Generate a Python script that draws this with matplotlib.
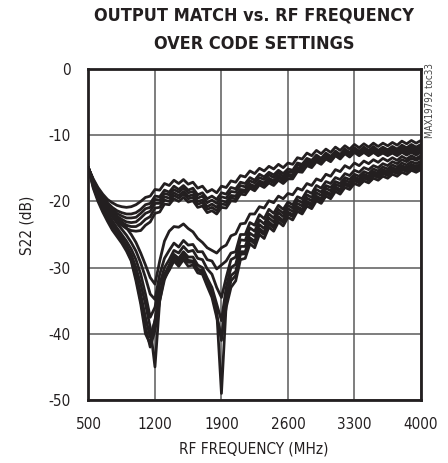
import numpy as np
import matplotlib
matplotlib.use("Agg")
import matplotlib.pyplot as plt

plt.rcParams['font.family'] = ['DejaVu Sans']
plt.rcParams['font.stretch'] = 'condensed'
plt.rcParams['axes.unicode_minus'] = False

# frequency sweep (MHz), one point every 50 MHz
freq = np.arange(500, 4001, 50)

# S22 (dB) traces, one per code setting
# upper group (small dip near 1 GHz)
u1 = [-15.0, -16.6, -17.9, -18.9, -19.7, -20.2, -20.6, -20.8, -20.9, -20.8,
      -20.5, -20.0, -19.4, -19.2, -18.2, -18.3, -17.3, -17.6, -16.8, -17.3,
      -16.7, -17.4, -17.1, -18.0, -17.7, -18.6, -18.2, -18.7, -17.7, -17.9,
      -16.9, -17.1, -16.1, -16.3, -15.4, -15.8, -15.0, -15.4, -14.7, -15.1,
      -14.4, -14.9, -14.2, -14.4, -13.4, -13.6, -12.7, -13.1, -12.3, -12.8,
      -12.1, -12.6, -11.8, -12.3, -11.6, -12.1, -11.4, -11.9, -11.3, -11.8,
      -11.2, -11.7, -11.2, -11.6, -11.1, -11.5, -10.9, -11.3, -10.8, -11.2,
      -10.8]
u2 = [-15.0, -16.8, -18.2, -19.3, -20.2, -20.9, -21.4, -21.7, -21.9, -21.9,
      -21.7, -21.2, -20.5, -20.3, -19.2, -19.3, -18.3, -18.6, -17.7, -18.2,
      -17.6, -18.3, -18.0, -19.0, -18.7, -19.6, -19.2, -19.7, -18.7, -18.9,
      -17.9, -18.1, -17.1, -17.3, -16.4, -16.8, -15.9, -16.3, -15.6, -16.0,
      -15.3, -15.8, -15.1, -15.3, -14.2, -14.4, -13.5, -13.8, -13.0, -13.5,
      -12.7, -13.2, -12.4, -12.9, -12.1, -12.6, -11.9, -12.4, -11.8, -12.3,
      -11.7, -12.3, -11.8, -12.2, -11.7, -12.1, -11.5, -11.9, -11.4, -11.8,
      -11.4]
u3 = [-15.0, -16.8, -18.3, -19.5, -20.4, -21.2, -21.8, -22.2, -22.5, -22.5,
      -22.4, -21.8, -21.1, -20.9, -19.7, -19.8, -18.8, -19.0, -18.2, -18.6,
      -18.0, -18.7, -18.5, -19.5, -19.2, -20.2, -19.8, -20.3, -19.3, -19.5,
      -18.5, -18.6, -17.6, -17.8, -16.9, -17.2, -16.4, -16.7, -16.0, -16.4,
      -15.7, -16.2, -15.5, -15.6, -14.5, -14.7, -13.7, -14.0, -13.2, -13.7,
      -12.9, -13.4, -12.6, -13.1, -12.3, -12.8, -12.1, -12.6, -12.0, -12.5,
      -11.9, -12.5, -12.0, -12.4, -11.9, -12.3, -11.8, -12.2, -11.7, -12.1,
      -11.7]
u4 = [-15.0, -16.9, -18.5, -19.7, -20.7, -21.5, -22.2, -22.7, -23.1, -23.2,
      -23.1, -22.5, -21.8, -21.5, -20.3, -20.3, -19.3, -19.5, -18.7, -19.1,
      -18.5, -19.2, -19.0, -20.0, -19.8, -20.8, -20.4, -20.9, -19.9, -20.1,
      -19.1, -19.2, -18.2, -18.3, -17.4, -17.7, -16.9, -17.2, -16.5, -16.9,
      -16.1, -16.6, -15.9, -16.0, -14.9, -15.0, -14.0, -14.3, -13.5, -13.9,
      -13.2, -13.6, -12.8, -13.3, -12.5, -13.0, -12.3, -12.8, -12.3, -12.8,
      -12.2, -12.7, -12.3, -12.7, -12.2, -12.6, -12.1, -12.5, -12.0, -12.4,
      -12.0]
u5 = [-15.0, -17.0, -18.6, -19.9, -21.0, -21.8, -22.6, -23.1, -23.6, -23.8,
      -23.8, -23.4, -22.7, -22.3, -21.0, -20.9, -19.8, -20.0, -19.1, -19.5,
      -18.9, -19.6, -19.4, -20.4, -20.2, -21.2, -20.9, -21.4, -20.4, -20.5,
      -19.5, -19.6, -18.5, -18.6, -17.7, -18.0, -17.2, -17.5, -16.8, -17.2,
      -16.4, -16.9, -16.2, -16.3, -15.2, -15.3, -14.3, -14.6, -13.7, -14.1,
      -13.4, -13.8, -12.9, -13.4, -12.6, -13.1, -12.4, -12.9, -12.4, -12.9,
      -12.4, -12.9, -12.5, -12.9, -12.4, -12.8, -12.3, -12.7, -12.3, -12.7,
      -12.3]
u6 = [-15.0, -17.0, -18.8, -20.1, -21.3, -22.2, -23.0, -23.6, -24.1, -24.4,
      -24.5, -24.4, -23.6, -23.1, -21.8, -21.6, -20.4, -20.5, -19.6, -20.0,
      -19.4, -20.1, -19.9, -20.9, -20.7, -21.7, -21.4, -21.9, -20.9, -21.0,
      -19.9, -20.0, -18.9, -19.0, -18.0, -18.4, -17.5, -17.9, -17.2, -17.6,
      -16.8, -17.3, -16.6, -16.6, -15.5, -15.6, -14.6, -14.9, -14.0, -14.4,
      -13.6, -14.0, -13.1, -13.6, -12.8, -13.3, -12.6, -13.1, -12.6, -13.1,
      -12.6, -13.1, -12.7, -13.1, -12.7, -13.1, -12.6, -13.0, -12.6, -13.0,
      -12.6]
# middle trace
m1 = [-15.0, -16.8, -18.2, -19.4, -20.5, -21.5, -22.4, -23.2, -24.0, -25.0,
      -26.2, -27.8, -29.6, -31.5, -32.5, -29.0, -26.0, -24.5, -23.8, -23.9,
      -23.4, -24.1, -24.6, -25.6, -26.2, -27.0, -27.4, -27.8, -27.0, -26.6,
      -25.2, -24.9, -23.4, -23.3, -21.9, -21.9, -20.8, -21.0, -19.9, -20.2,
      -19.2, -19.6, -18.8, -19.0, -18.0, -18.3, -17.3, -17.6, -16.6, -16.9,
      -15.9, -16.2, -15.2, -15.5, -14.6, -15.0, -14.2, -14.6, -13.9, -14.3,
      -13.7, -14.1, -13.5, -13.9, -13.4, -13.8, -13.2, -13.6, -13.1, -13.5,
      -13.1]
# lower group (deep notches near 1.2 GHz and 1.9 GHz)
l1 = [-15.0, -17.0, -18.6, -20.0, -21.2, -22.3, -23.3, -24.2, -25.1, -26.2,
      -27.5, -29.3, -31.5, -34.0, -34.8, -31.0, -28.6, -27.4, -26.3, -26.9,
      -25.9, -26.6, -26.5, -27.6, -27.6, -28.8, -29.0, -30.2, -29.6, -29.0,
      -27.8, -27.6, -25.0, -25.0, -23.2, -23.6, -22.0, -22.6, -21.2, -21.8,
      -20.6, -21.2, -20.1, -20.5, -19.3, -19.6, -18.4, -18.8, -17.6, -18.0,
      -17.0, -17.3, -16.4, -16.7, -15.8, -16.1, -15.3, -15.6, -14.9, -15.2,
      -14.6, -14.9, -14.3, -14.6, -14.0, -14.3, -13.7, -14.0, -13.5, -13.8,
      -13.4]
l2 = [-15.0, -17.2, -18.9, -20.4, -21.7, -22.9, -24.0, -25.0, -26.0, -27.2,
      -28.8, -31.0, -34.0, -37.5, -36.0, -32.5, -30.0, -28.8, -27.4, -27.8,
      -26.8, -27.6, -27.4, -28.6, -28.8, -30.2, -31.0, -33.0, -34.5, -31.5,
      -28.8, -28.4, -25.8, -25.9, -24.0, -24.5, -22.8, -23.4, -21.9, -22.5,
      -21.2, -21.8, -20.6, -21.0, -19.8, -20.2, -19.0, -19.4, -18.2, -18.6,
      -17.6, -17.9, -17.0, -17.3, -16.4, -16.7, -15.9, -16.2, -15.5, -15.8,
      -15.1, -15.4, -14.8, -15.1, -14.5, -14.8, -14.2, -14.5, -14.0, -14.3,
      -13.9]
l3 = [-15.0, -17.4, -19.2, -20.8, -22.1, -23.3, -24.4, -25.5, -26.6, -28.0,
      -30.0, -32.5, -35.5, -39.0, -45.0, -35.0, -31.2, -29.6, -28.0, -28.6,
      -27.6, -28.4, -28.4, -29.6, -30.0, -31.6, -33.0, -35.5, -38.0, -33.0,
      -30.0, -29.5, -26.8, -26.8, -24.8, -25.3, -23.5, -24.1, -22.5, -23.1,
      -21.7, -22.3, -21.1, -21.5, -20.3, -20.7, -19.5, -19.9, -18.7, -19.1,
      -18.0, -18.4, -17.4, -17.7, -16.8, -17.1, -16.3, -16.6, -15.9, -16.2,
      -15.5, -15.8, -15.2, -15.5, -14.9, -15.2, -14.6, -14.9, -14.4, -14.7,
      -14.3]
l4 = [-15.0, -17.6, -19.5, -21.1, -22.4, -23.6, -24.7, -25.8, -27.0, -28.5,
      -31.0, -34.0, -37.5, -40.5, -38.0, -34.0, -31.0, -29.8, -28.4, -29.0,
      -28.0, -28.9, -29.0, -30.2, -30.8, -32.5, -34.0, -37.0, -41.0, -34.5,
      -31.2, -30.6, -27.6, -27.6, -25.5, -26.0, -24.1, -24.7, -23.1, -23.7,
      -22.3, -22.9, -21.6, -22.0, -20.8, -21.2, -20.0, -20.4, -19.2, -19.6,
      -18.5, -18.9, -17.8, -18.2, -17.2, -17.5, -16.6, -16.9, -16.2, -16.5,
      -15.8, -16.1, -15.5, -15.8, -15.2, -15.5, -14.9, -15.2, -14.7, -15.0,
      -14.6]
l5 = [-15.0, -17.8, -19.7, -21.3, -22.6, -23.8, -24.9, -26.0, -27.2, -28.8,
      -31.5, -35.0, -39.0, -42.0, -39.5, -35.0, -31.8, -30.2, -28.8, -29.4,
      -28.4, -29.2, -29.2, -30.4, -30.4, -32.0, -33.5, -36.5, -49.0, -35.5,
      -32.0, -31.2, -28.0, -27.9, -25.8, -26.4, -24.5, -25.0, -23.4, -24.0,
      -22.6, -23.2, -21.9, -22.3, -21.1, -21.5, -20.3, -20.7, -19.5, -19.9,
      -18.8, -19.2, -18.1, -18.5, -17.5, -17.8, -16.9, -17.2, -16.5, -16.8,
      -16.1, -16.4, -15.8, -16.1, -15.5, -15.8, -15.2, -15.5, -15.0, -15.3,
      -14.9]
l6 = [-15.0, -18.0, -20.0, -21.6, -23.0, -24.3, -25.3, -26.3, -27.5, -29.0,
      -32.0, -35.5, -40.0, -41.5, -38.0, -34.0, -31.5, -30.4, -29.0, -29.8,
      -28.8, -29.8, -29.6, -30.8, -31.0, -32.8, -34.5, -37.5, -40.5, -36.0,
      -33.0, -32.0, -28.8, -28.6, -26.4, -27.0, -25.0, -25.6, -23.9, -24.5,
      -23.1, -23.7, -22.4, -22.8, -21.5, -21.9, -20.7, -21.1, -19.9, -20.3,
      -19.2, -19.6, -18.5, -18.9, -17.9, -18.2, -17.3, -17.6, -16.9, -17.2,
      -16.5, -16.8, -16.2, -16.5, -15.9, -16.2, -15.6, -15.9, -15.3, -15.6,
      -15.2]

traces = [u1, u2, u3, u4, u5, u6, m1, l1, l2, l3, l4, l5, l6]

x_ticks = [500, 1200, 1900, 2600, 3300, 4000]
y_ticks = [0, -10, -20, -30, -40, -50]

fig = plt.figure(figsize=(4.48, 4.63), dpi=100)
ax = fig.add_axes([0.1975, 0.136, 0.742, 0.715])

for tr in traces:
    ax.plot(freq, tr, color='#231f20', lw=2.0, solid_joinstyle='round')

ax.set_xlim(500, 4000)
ax.set_ylim(-50, 0)
ax.set_xticks(x_ticks)
ax.set_yticks(y_ticks)
ax.grid(True, color='#5a5a5a', lw=1.1)
ax.set_axisbelow(True)
ax.tick_params(length=0, labelsize=11, colors='#231f20')
ax.tick_params(axis='x', pad=12)
ax.tick_params(axis='y', pad=13)
for sp in ax.spines.values():
    sp.set_linewidth(2.0)
    sp.set_color('#231f20')

fig.text(0.567, 0.967, 'OUTPUT MATCH vs. RF FREQUENCY', ha='center', va='center',
         fontsize=13, fontweight='heavy', color='#231f20')
fig.text(0.567, 0.904, 'OVER CODE SETTINGS', ha='center', va='center',
         fontsize=13, fontweight='heavy', color='#231f20')
fig.text(0.567, 0.030, 'RF FREQUENCY (MHz)', ha='center', va='center',
         fontsize=11, color='#231f20')
fig.text(0.060, 0.514, 'S22 (dB)', ha='center', va='center', rotation=90,
         fontsize=11, color='#231f20')
fig.text(0.960, 0.864, 'MAX19792 toc33', ha='center', va='top', rotation=90,
         fontsize=7, color='#444444')

fig.savefig('out.png', dpi=100)
